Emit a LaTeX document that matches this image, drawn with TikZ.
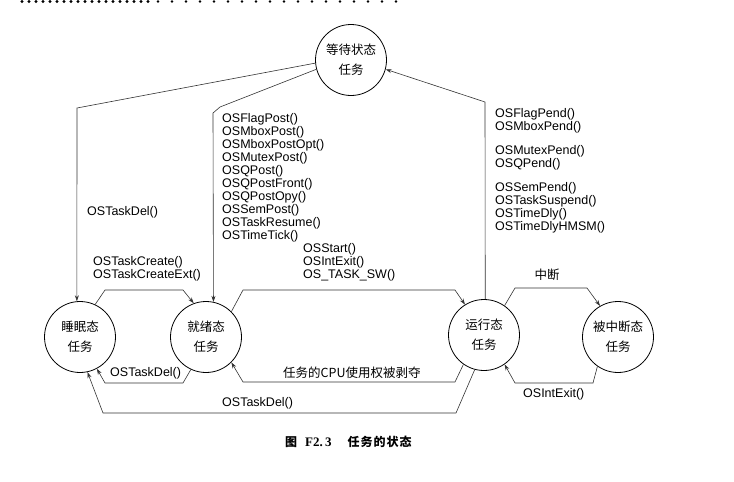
\documentclass[tikz,border=0pt]{standalone}
\usepackage{fontspec}
\setmainfont{Liberation Sans}
\newfontfamily\cjk{Noto Sans CJK SC}
\newfontfamily\capserif{Liberation Serif}
\usetikzlibrary{arrows.meta}
\begin{document}
\begin{tikzpicture}[x=1pt,y=-1pt,
  state/.style={circle,draw,line width=0.8pt,minimum size=71pt,inner sep=0pt,align=center,font=\cjk\fontsize{12.5}{20}\selectfont},
  conn/.style={line width=0.6pt,draw=black!80},
  arr/.style={conn,-{Stealth[length=6pt,width=4pt]}},
  lab/.style={inner sep=0pt,align=left,font=\fontsize{12.5}{13}\selectfont},
  cjklab/.style={inner sep=0pt,font=\cjk\fontsize{12.5}{13}\selectfont},
]
\useasboundingbox (0,0) rectangle (734,482);
% top dotted border
\foreach \x in {22,29,...,150} \fill (\x,1.5) circle (1.6pt);
\foreach \x in {158,172,...,400} \fill (\x,1.5) circle (1.4pt);

% states
\node[state] (W) at (351,60) {等待状态\\任务};
\node[state] (S) at (80,337) {睡眠态\\任务};
\node[state] (R) at (206,337) {就绪态\\任务};
\node[state] (Run) at (484,335) {运行态\\任务};
\node[state] (I) at (618,337) {被中断态\\任务};

% connectors
\draw[arr] (W.185) -- (77,108) -- (S.95);
\draw[arr] (W.195) -- (220,107) -- (213,113) -- (R.78);
\draw[arr] (Run.88) -- (485,102) -- (W.-15);
\draw[arr] (S.65) -- (105,290) -- (183,290) -- (R.110);
\draw[arr] (R.45) -- (243,290) -- (455,290) -- (Run.122);
\draw[arr] (Run.235) -- (455,382) -- (243,382) -- (R.-45);
\draw[arr] (R.245) -- (183,383) -- (105,383) -- (S.-62);
\draw[arr] (Run.255) -- (456,413) -- (103,413) -- (S.-78);
\draw[arr] (Run.55) -- (515,288) -- (587,288) -- (I.120);
\draw[arr] (I.235) -- (593,383) -- (515,383) -- (Run.-55);

% labels
\node[lab,anchor=west] (l1) at (87,212) {OSTaskDel()};
\node[lab,anchor=north west] (l2) at (222,113) {OSFlagPost()\\OSMboxPost()\\OSMboxPostOpt()\\OSMutexPost()\\OSQPost()\\OSQPostFront()\\OSQPostOpy()\\OSSemPost()\\OSTaskResume()\\OSTimeTick()};
\node[lab,anchor=north west] (l3) at (495,108) {OSFlagPend()\\OSMboxPend()\\[11pt]OSMutexPend()\\OSQPend()\\[11pt]OSSemPend()\\OSTaskSuspend()\\OSTimeDly()\\OSTimeDlyHMSM()};
\node[lab,anchor=north west] (l4) at (93,256) {OSTaskCreate()\\OSTaskCreateExt()};
\node[lab,anchor=north west] (l5) at (303,243) {OSStart()\\OSIntExit()\\OS\_TASK\_SW()};
\node[cjklab,anchor=west] (l6) at (283,373) {任务的CPU使用权被剥夺};
\node[lab,anchor=west] (l7) at (110,373) {OSTaskDel()};
\node[lab,anchor=west] (l8) at (222,403) {OSTaskDel()};
\node[cjklab] (l9) at (547,275) {中断};
\node[lab,anchor=west] (l10) at (523,394) {OSIntExit()};

% caption
\node[anchor=west,inner sep=0pt] (cap) at (285,442) {{\cjk\bfseries\fontsize{12}{12}\selectfont 图}\hspace{8pt}{\capserif\bfseries\fontsize{13}{13}\selectfont F2.\,3}\hspace{16pt}{\cjk\bfseries\fontsize{12}{12}\selectfont 任\hspace{1pt}务\hspace{1pt}的\hspace{1pt}状\hspace{1pt}态}};
\end{tikzpicture}
\end{document}
